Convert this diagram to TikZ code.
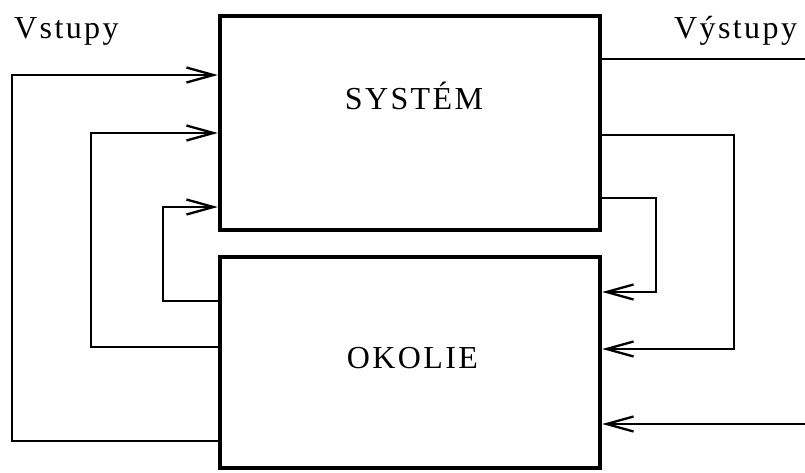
\documentclass[tikz,border=0pt]{standalone}
\usepackage{fontspec}
\setmainfont{Liberation Serif}
\newfontfamily\boxfont[LetterSpace=7.5]{Liberation Serif}
\usetikzlibrary{arrows.meta}
\begin{document}
\begin{tikzpicture}[x=1pt,y=-1pt,
  blockbox/.style={draw,line width=4.5pt,minimum width=380pt,inner sep=0pt},
  wire/.style={line width=2pt},
  feed/.style={wire,-{Straight Barb[length=27pt,width=15pt,line width=2.3pt]}},
  sidelabel/.style={font=\boxfont\fontsize{32}{38}\selectfont,inner sep=0pt,anchor=base west},
  boxlabel/.style={font=\boxfont\fontsize{32}{38}\selectfont,inner sep=0pt,anchor=base}]
\useasboundingbox (0,0) rectangle (805,472);
\node[blockbox,minimum height=214pt] (sys) at (410,123) {};
\node[blockbox,minimum height=211pt] (oko) at (410,362.5) {};
\node[boxlabel] (systxt) at (414,109) {SYSTÉM};
\node[boxlabel] (okotxt) at (412.5,368) {OKOLIE};
\node[sidelabel] (vst) at (14,38) {Vstupy};
\node[sidelabel] (vyst) at (674,38) {Výstupy};
% left feedback loops
\coordinate (l1a) at (12,441); \coordinate (l1b) at (12,75);
\coordinate (l2a) at (91,347); \coordinate (l2b) at (91,133);
\coordinate (l3a) at (163,301); \coordinate (l3b) at (163,207);
\draw[feed] (oko.west |- l1a) -- (l1a) -- (l1b) -- (sys.west |- l1b);
\draw[feed] (oko.west |- l2a) -- (l2a) -- (l2b) -- (sys.west |- l2b);
\draw[feed] (oko.west |- l3a) -- (l3a) -- (l3b) -- (sys.west |- l3b);
% right side
\coordinate (out) at (806,59);
\draw[wire] (sys.east |- out) -- (out);
\coordinate (r1a) at (734,135); \coordinate (r1b) at (734,349);
\coordinate (r2a) at (656,198); \coordinate (r2b) at (656,292);
\draw[feed] (sys.east |- r1a) -- (r1a) -- (r1b) -- (oko.east |- r1b);
\draw[feed] (sys.east |- r2a) -- (r2a) -- (r2b) -- (oko.east |- r2b);
\coordinate (inp) at (806,424);
\draw[feed] (inp) -- (oko.east |- inp);
\end{tikzpicture}
\end{document}
